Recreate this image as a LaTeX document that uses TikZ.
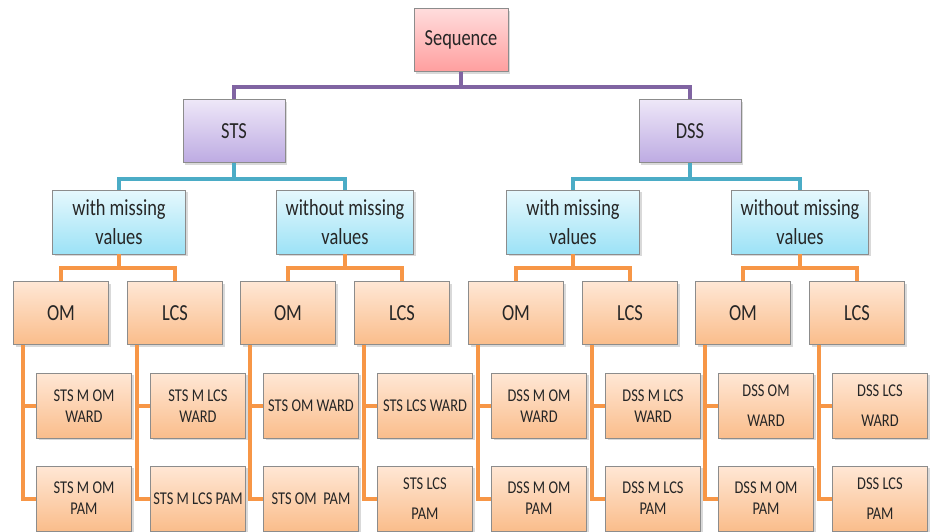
\documentclass[tikz,border=0pt]{standalone}
\usepackage{fontspec}
\setmainfont[FakeStretch=0.8]{Carlito}
\usepackage{xcolor}
\usetikzlibrary{positioning,shadows}

\definecolor{boxline}{HTML}{8C8C8C}
\definecolor{txt}{HTML}{262626}
\definecolor{seqtop}{HTML}{FFDCDC}
\definecolor{seqbot}{HTML}{FF9F9F}
\definecolor{purtop}{HTML}{EEE7F8}
\definecolor{purbot}{HTML}{BDABE2}
\definecolor{cyantop}{HTML}{E6F8FD}
\definecolor{cyanbot}{HTML}{9CE2F6}
\definecolor{ortop}{HTML}{FFE7D5}
\definecolor{orbot}{HTML}{FABD8B}
\definecolor{purln}{HTML}{8064A2}
\definecolor{cyanln}{HTML}{4BACC6}
\definecolor{orln}{HTML}{F79646}

\begin{document}
\begin{tikzpicture}[x=1pt, y=1pt,
  box/.style={draw=boxline, line width=0.8pt, minimum width=95pt,
              minimum height=63pt, align=center, text=txt,
              drop shadow={shadow xshift=2pt, shadow yshift=-2pt, opacity=.3}},
  bigtxt/.style={font=\fontsize{23}{29}\selectfont},
  seqbox/.style={box, bigtxt, top color=seqtop, bottom color=seqbot, minimum width=94pt},
  setbox/.style={box, bigtxt, top color=purtop, bottom color=purbot, minimum width=102pt},
  misbox/.style={box, bigtxt, top color=cyantop, bottom color=cyanbot,
                 minimum width=133pt, minimum height=64pt, inner xsep=2pt},
  methbox/.style={box, bigtxt, top color=ortop, bottom color=orbot},
  leaf/.style={box, top color=ortop, bottom color=orbot, minimum height=65pt,
               inner xsep=1pt, font=\fontsize{18}{21}\selectfont},
  purp/.style={draw=purln, line width=4pt},
  cyan/.style={draw=cyanln, line width=4pt},
  oran/.style={draw=orln, line width=4pt},
]
\useasboundingbox (0,0) rectangle (933,-531);

% top levels
\node[seqbox] (seq) at (461,-40) {Sequence};
\node[setbox] (sts) at (234,-131) {STS};
\node[setbox] (dss) at (690,-131) {DSS};

\node[misbox] (misA) at (119,-222) {with missing\\values};
\node[misbox, minimum width=137pt] (misB) at (345,-222) {without missing\\values};
\node[misbox] (misC) at (573,-222) {with missing\\values};
\node[misbox, minimum width=137pt] (misD) at (800,-222) {without missing\\values};

% methods
\node[methbox] (omA)  at (61,-313)  {OM};
\node[methbox] (lcsA) at (175,-313) {LCS};
\node[methbox] (omB)  at (288,-313) {OM};
\node[methbox] (lcsB) at (402,-313) {LCS};
\node[methbox] (omC)  at (516,-313) {OM};
\node[methbox] (lcsC) at (630,-313) {LCS};
\node[methbox] (omD)  at (743,-313) {OM};
\node[methbox] (lcsD) at (857,-313) {LCS};

% clusterings: ward row, then pam row
\node[leaf, below=28pt of omA, xshift=23pt]  (omAw)  {STS M OM\\WARD};
\node[leaf, below=28pt of lcsA, xshift=23pt] (lcsAw) {STS M LCS\\WARD};
\node[leaf, below=28pt of omB, xshift=23pt]  (omBw)  {STS OM WARD};
\node[leaf, below=28pt of lcsB, xshift=23pt] (lcsBw) {STS LCS WARD};
\node[leaf, below=28pt of omC, xshift=23pt]  (omCw)  {DSS M OM\\WARD};
\node[leaf, below=28pt of lcsC, xshift=23pt] (lcsCw) {DSS M LCS\\WARD};
\node[leaf, below=28pt of omD, xshift=23pt]  (omDw)  {DSS OM\\[9pt]WARD};
\node[leaf, below=28pt of lcsD, xshift=23pt] (lcsDw) {DSS LCS\\[9pt]WARD};

\node[leaf, below=27pt of omAw]  (omAp)  {STS M OM\\PAM};
\node[leaf, below=27pt of lcsAw] (lcsAp) {STS M LCS PAM};
\node[leaf, below=27pt of omBw]  (omBp)  {STS OM\ \ PAM};
\node[leaf, below=27pt of lcsBw] (lcsBp) {STS LCS\\[9pt]PAM};
\node[leaf, below=27pt of omCw]  (omCp)  {DSS M OM\\PAM};
\node[leaf, below=27pt of lcsCw] (lcsCp) {DSS M LCS\\PAM};
\node[leaf, below=27pt of omDw]  (omDp)  {DSS M OM\\PAM};
\node[leaf, below=27pt of lcsDw] (lcsDp) {DSS LCS\\[9pt]PAM};

% junction points
\coordinate[below=15pt of seq] (jQ);
\coordinate[below=16pt of sts] (jS);
\coordinate[below=16pt of dss] (jD);
\coordinate[below=14pt of misA] (jA);
\coordinate[below=14pt of misB] (jB);
\coordinate[below=14pt of misC] (jC);
\coordinate[below=14pt of misD] (jE);

% connectors
\draw[purp] (seq) -- (jQ);
\draw[purp] (sts.north) |- (jQ) -| (dss.north);

\draw[cyan] (sts) -- (jS);
\draw[cyan] (misA.north) |- (jS) -| (misB.north);
\draw[cyan] (dss) -- (jD);
\draw[cyan] (misC.north) |- (jD) -| (misD.north);

\draw[oran] (misA) -- (jA);
\draw[oran] (omA.north) |- (jA) -| (lcsA.north);
\draw[oran] (misB) -- (jB);
\draw[oran] (omB.north) |- (jB) -| (lcsB.north);
\draw[oran] (misC) -- (jC);
\draw[oran] (omC.north) |- (jC) -| (lcsC.north);
\draw[oran] (misD) -- (jE);
\draw[oran] (omD.north) |- (jE) -| (lcsD.north);

\foreach \m in {omA,lcsA,omB,lcsB,omC,lcsC,omD,lcsD} {
  \draw[oran] ([xshift=10pt]\m.south west) |- (\m w.west);
  \draw[oran] ([xshift=10pt]\m.south west) |- (\m p.west);
}
\end{tikzpicture}
\end{document}
